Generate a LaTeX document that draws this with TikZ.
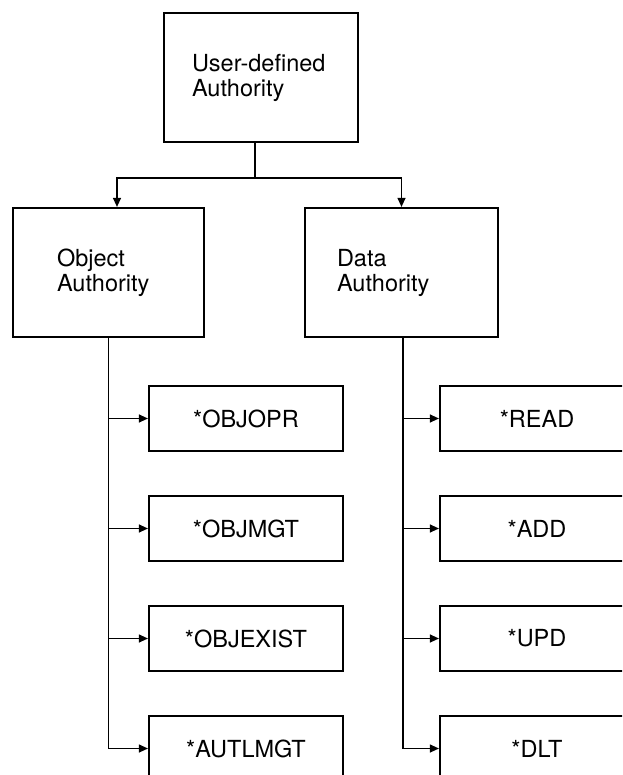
\documentclass[tikz,border=0pt]{standalone}
\usepackage{fontspec}
\setmainfont{TeX Gyre Heros}
\usetikzlibrary{arrows.meta,calc}

\begin{document}
\begin{tikzpicture}[x=1pt,y=-1pt,
    font=\fontsize{23.5}{25}\selectfont,
    authbox/.style={draw, line width=2.2pt, minimum height=129pt, align=left},
    permbox/.style={draw, line width=2.2pt, minimum width=194pt, minimum height=65pt},
    link/.style={line width=1.2pt},
    linkarrow/.style={link, -{Triangle[length=9pt,width=8pt]}}]

	\useasboundingbox (0,0) rectangle (622,775);
	\clip (0,0) rectangle (622,775);

	% authority boxes
	\node[authbox, inner xsep=28pt, text width=138pt] (user) at (261,77.5) {User-defined\\Authority};
	\node[authbox, inner xsep=44pt, text width=103pt] (object) at (108.5,272.5) {Object\\Authority};
	\node[authbox, inner xsep=32pt, text width=129pt] (data) at (401.5,272.5) {Data\\Authority};

	% object authorities
	\node[permbox] (objopr) at (246,418.5) {*OBJOPR};
	\node[permbox] (objmgt) at (246,528.5) {*OBJMGT};
	\node[permbox] (objexist) at (246,638.5) {*OBJEXIST};
	\node[permbox] (autlmgt) at (246,748.5) {*AUTLMGT};

	% data authorities
	\node[permbox] (read) at (537,418.5) {*READ};
	\node[permbox] (add) at (537,528.5) {*ADD};
	\node[permbox] (upd) at (537,638.5) {*UPD};
	\node[permbox] (dlt) at (537,748.5) {*DLT};

	% split below the top box
	\coordinate (split) at ($(user.south)+(-6,35)$);
	\draw[link] ([xshift=-6pt]user.south) -- (split);
	\draw[linkarrow] (split) -| ([xshift=8.5pt]object.north);
	\draw[linkarrow] (split) -| (data.north);

	\draw[linkarrow] (object.south) |- (objopr.west);
	\draw[linkarrow] (object.south) |- (objmgt.west);
	\draw[linkarrow] (object.south) |- (objexist.west);
	\draw[linkarrow] (object.south) |- (autlmgt.west);

	\draw[linkarrow] ([xshift=1.5pt]data.south) |- (read.west);
	\draw[linkarrow] ([xshift=1.5pt]data.south) |- (add.west);
	\draw[linkarrow] ([xshift=1.5pt]data.south) |- (upd.west);
	\draw[linkarrow] ([xshift=1.5pt]data.south) |- (dlt.west);
\end{tikzpicture}
\end{document}
